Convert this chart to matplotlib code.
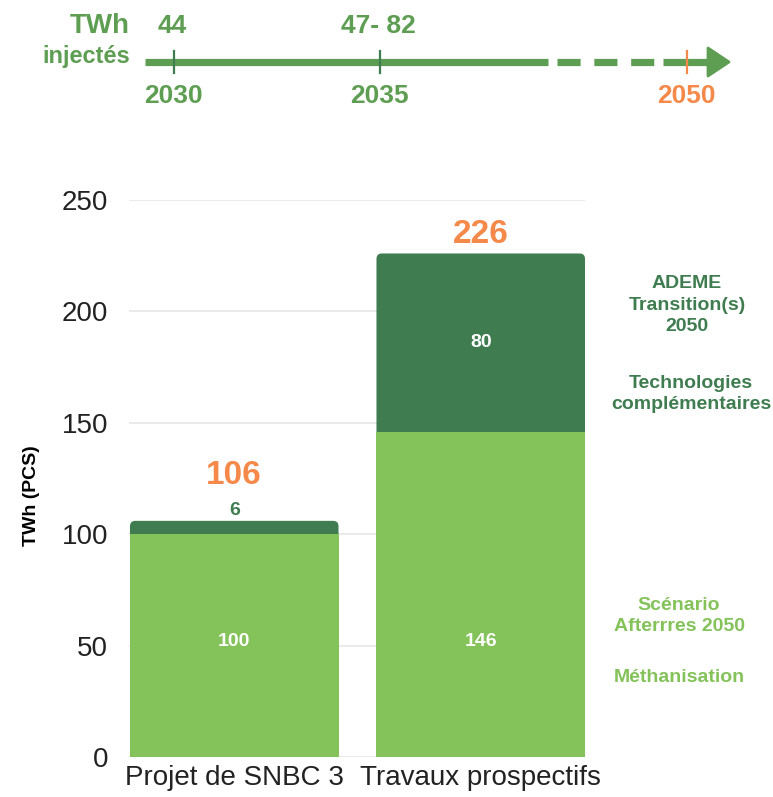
import matplotlib.pyplot as plt
from matplotlib.patches import FancyBboxPatch, Polygon

plt.rcParams['font.family'] = ['Liberation Sans', 'DejaVu Sans']

# data
categories = ['Projet de SNBC 3', 'Travaux prospectifs']
methanisation = [100, 146]
complementaires = [6, 80]
totals = [106, 226]

timeline_years = ['2030', '2035', '2050']
timeline_values = ['44', '47- 82', '']

DARK = '#3F7D50'
LIGHT = '#84C25A'
ORANGE = '#F5894A'
TL_GREEN = '#5E9E52'
BOLD = ['Liberation Sans', 'DejaVu Sans']

W, H = 773, 797
fig = plt.figure(figsize=(W / 100, H / 100), dpi=100)

# ---- timeline (schematic, pixel coordinates) ----
tl = fig.add_axes([0, 0, 1, 1])
tl.set_xlim(0, W)
tl.set_ylim(H, 0)
tl.axis('off')
tl.set_zorder(-1)

y0 = 62
tl.plot([145, 548], [y0, y0], color=TL_GREEN, lw=5.2, solid_capstyle='butt')
tl.plot([557, 655], [y0, y0], color=TL_GREEN, lw=5.2, dashes=(3.2, 1.9), solid_capstyle='butt')
tl.plot([663, 712], [y0, y0], color=TL_GREEN, lw=5.2, solid_capstyle='butt')
tl.add_patch(Polygon([[708, 48], [729, y0], [708, 76]], closed=True, color=TL_GREEN,
                     joinstyle='round', lw=2))

tick_x = [174, 380, 687]
for i, (yr, val) in enumerate(zip(timeline_years, timeline_values)):
    c = ORANGE if yr == '2050' else DARK
    tl.plot([tick_x[i], tick_x[i]], [51, 73], color=c, lw=1.6)
    tl.text(tick_x[i] - 1, 96, yr, ha='center', va='center', fontsize=19,
            fontweight='bold', color=ORANGE if yr == '2050' else TL_GREEN, family=BOLD)
    if val:
        tl.text(tick_x[i] - 2, 26, val, ha='center', va='center', fontsize=19,
                fontweight='bold', color=TL_GREEN, family=BOLD)
tl.text(130, 26, 'TWh', ha='right', va='center', fontsize=20, fontweight='bold',
        color=TL_GREEN, family=BOLD)
tl.text(130, 56, 'injectés', ha='right', va='center', fontsize=17, fontweight='bold',
        color=TL_GREEN, family=BOLD)

# ---- stacked bars ----
ax = fig.add_axes([129 / W, 1 - 757 / H, 456 / W, 557 / H])
x = [0, 1]
bw = 0.846
ax.bar(x, methanisation, width=bw, color=LIGHT, zorder=3)
tops = ax.bar(x, complementaires, bottom=methanisation, width=bw, color=DARK, zorder=2)

# rounded top corners
for b in tops:
    b.set_visible(False)
    p = FancyBboxPatch((b.get_x(), b.get_y() - 5), b.get_width(), b.get_height() + 5,
                       boxstyle='round,pad=0,rounding_size=0.022', mutation_aspect=110,
                       color=DARK, zorder=2, lw=0)
    ax.add_patch(p)

ax.set_xlim(-bw / 2 - 0.004, 1 + bw / 2)
ax.set_ylim(0, 250)
ax.set_yticks([0, 50, 100, 150, 200, 250])
ax.set_xticks(x)
ax.set_xticklabels(categories)
ax.tick_params(axis='both', length=0, labelsize=20, colors='#222222')
ax.tick_params(axis='y', pad=15)
ax.tick_params(axis='x', pad=6)
ax.grid(axis='y', color='#E6E6E6', lw=1.2, zorder=0)
ax.set_axisbelow(True)
for s in ax.spines.values():
    s.set_visible(False)
ax.set_ylabel('TWh (PCS)', fontsize=14, fontweight='bold', family=BOLD)
ax.yaxis.set_label_coords(-0.195, 0.47)

label_y = methanisation[0] / 2 + 2
for i in x:
    ax.text(i, label_y, str(methanisation[i]), ha='center', va='center', color='white',
            fontsize=14, fontweight='bold', family=BOLD, zorder=5)

# small top segment: value above bar, big one inside
ax.text(0, totals[0] + 4.5, str(complementaires[0]), ha='center', va='center', color=DARK,
        fontsize=14, fontweight='bold', family=BOLD)
ax.text(1, methanisation[1] + complementaires[1] / 2, str(complementaires[1]), ha='center',
        va='center', color='white', fontsize=14, fontweight='bold', family=BOLD, zorder=5)

ax.text(0, totals[0] + 20.5, str(totals[0]), ha='center', va='center', color=ORANGE,
        fontsize=24, fontweight='bold', family=BOLD)
ax.text(1, totals[1] + 8.5, str(totals[1]), ha='center', va='center', color=ORANGE,
        fontsize=24, fontweight='bold', family=BOLD)

# right-side annotations
fig.text(687 / W, 1 - 305 / H, 'ADEME\nTransition(s)\n2050', ha='center', va='center',
         color=DARK, fontsize=14, fontweight='bold', family=BOLD, linespacing=1.35)
fig.text(691 / W, 1 - 394 / H, 'Technologies\ncomplémentaires', ha='center', va='center',
         color=DARK, fontsize=14, fontweight='bold', family=BOLD, linespacing=1.3)
fig.text(679 / W, 1 - 616 / H, 'Scénario\nAfterrres 2050', ha='center', va='center',
         color=LIGHT, fontsize=14, fontweight='bold', family=BOLD, linespacing=1.3)
fig.text(679 / W, 1 - 678 / H, 'Méthanisation', ha='center', va='center',
         color=LIGHT, fontsize=14, fontweight='bold', family=BOLD)

fig.savefig('out.png', dpi=100)
